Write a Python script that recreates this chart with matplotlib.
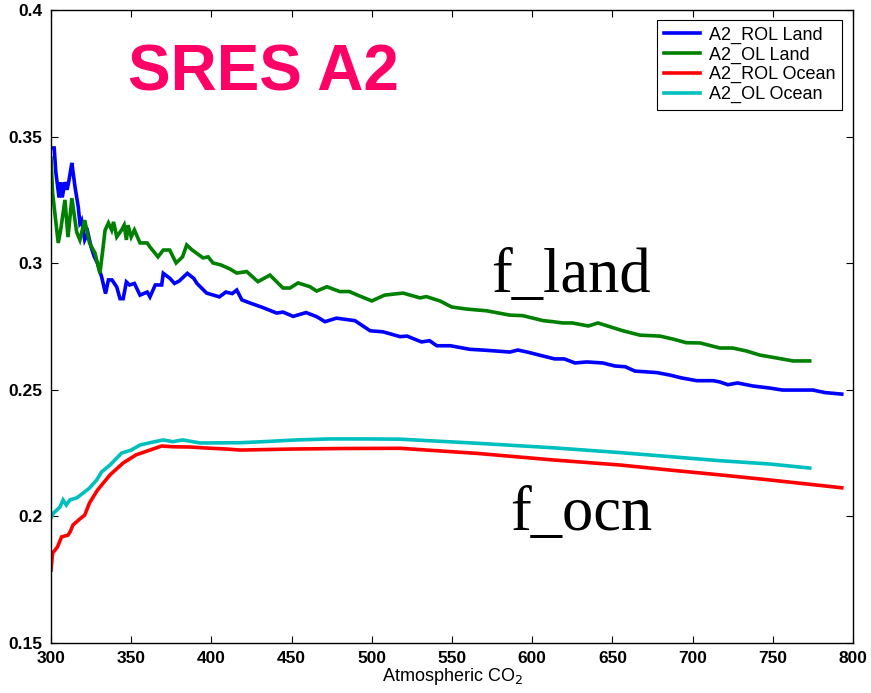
import matplotlib
matplotlib.use('Agg')
import matplotlib.pyplot as plt
from matplotlib.ticker import FuncFormatter

# 数据: 近似值
rol_land_x = [300, 302, 303, 305, 306, 307, 308.7, 310, 311, 312, 313, 315, 317, 318, 319,
              321, 323, 325, 327, 329, 331.6, 334, 335.8, 338, 341, 343, 345, 347, 349, 352,
              355.5, 360, 361.7, 365, 369, 370, 374, 377, 380, 385, 389, 391, 397, 405, 409,
              413, 415.8, 419, 424, 432, 440.7, 444.6, 451, 459, 465.6, 470.8, 478, 489.5,
              499, 507, 517.6, 522, 531, 536, 540.5, 549, 561, 569, 580, 586, 591, 597,
              607, 614, 620, 626.7, 634, 644, 651.6, 658, 664, 677.6, 686, 693, 702.6,
              712.8, 717, 722, 728, 737.6, 748, 756, 775, 782.5, 793]
rol_land_y = [0.3455, 0.3455, 0.336, 0.326, 0.332, 0.326, 0.332, 0.329, 0.332, 0.3357,
              0.3396, 0.330, 0.3222, 0.3159, 0.317, 0.3092, 0.312, 0.3064, 0.3025, 0.300,
              0.2945, 0.288, 0.2934, 0.2934, 0.2906, 0.286, 0.286, 0.2926, 0.2914, 0.292,
              0.2874, 0.2886, 0.2867, 0.2914, 0.2914, 0.296, 0.2941, 0.292, 0.293, 0.296,
              0.294, 0.292, 0.2882, 0.2867, 0.2886, 0.288, 0.2894, 0.2855, 0.2843, 0.2825,
              0.2803, 0.2807, 0.279, 0.2805, 0.2789, 0.2769, 0.2783, 0.2773, 0.2733, 0.2729,
              0.271, 0.2712, 0.2689, 0.2694, 0.2674, 0.2674, 0.266, 0.2657, 0.2652, 0.2649,
              0.2657, 0.2649, 0.2633, 0.2622, 0.2622, 0.2606, 0.261, 0.2606, 0.2594, 0.2591,
              0.2574, 0.2568, 0.2558, 0.2547, 0.2536, 0.2536, 0.2531, 0.252, 0.2527, 0.2515,
              0.2507, 0.2499, 0.2499, 0.2489, 0.2483]

ol_land_x = [300, 301, 304.5, 306, 308.7, 310.6, 313, 316, 318, 321, 324, 327.4, 330.5,
             332.5, 333.7, 335.8, 337.8, 339, 341, 344, 345.6, 347, 348, 350, 352, 355.5,
             360, 361.7, 366.7, 370, 374, 378, 382, 384.6, 388, 394.8, 398, 401, 406,
             411.6, 415.8, 422, 429, 436.5, 444.6, 449, 454, 461.5, 465.6, 472, 480, 486,
             492.6, 500, 508, 519.5, 530, 534, 542.5, 549.8, 559, 571.6, 586, 594, 607,
             613, 619, 625, 635, 641, 647, 656.6, 667, 679.7, 688, 696, 704.6, 717, 725,
             733.7, 742, 752, 762.6, 773]
ol_land_y = [0.3415, 0.3277, 0.308, 0.313, 0.325, 0.3103, 0.3257, 0.3123, 0.3092, 0.317,
             0.308, 0.304, 0.296, 0.3064, 0.313, 0.3159, 0.3131, 0.3163, 0.3104, 0.3131,
             0.315, 0.3092, 0.315, 0.3104, 0.3131, 0.308, 0.308, 0.3064, 0.3025, 0.3052,
             0.3052, 0.3001, 0.3025, 0.3072, 0.3052, 0.3021, 0.3025, 0.3001, 0.2993, 0.2977,
             0.2961, 0.2967, 0.2927, 0.2953, 0.2902, 0.2902, 0.2922, 0.2907, 0.289, 0.2907,
             0.2888, 0.2888, 0.287, 0.2851, 0.2874, 0.2882, 0.2863, 0.2868, 0.2851, 0.2827,
             0.2819, 0.2812, 0.2795, 0.2793, 0.2773, 0.2769, 0.2764, 0.2764, 0.2752, 0.2764,
             0.2752, 0.2733, 0.2716, 0.2712, 0.27, 0.2686, 0.2685, 0.2665, 0.2665, 0.2653,
             0.2637, 0.2626, 0.2614, 0.2614]

rol_ocean_x = [300, 301, 304, 306.6, 310.6, 312, 313.7, 318, 321, 324, 329, 336.8, 345,
               353, 361.7, 369, 376, 386.7, 397, 409.5, 418, 450, 480, 517.6, 565.4, 613,
               654.7, 686, 717, 748, 793]
rol_ocean_y = [0.1788, 0.1855, 0.1879, 0.1919, 0.1926, 0.194, 0.1966, 0.199, 0.2005, 0.2053,
               0.2104, 0.2164, 0.2211, 0.2243, 0.2262, 0.2278, 0.2275, 0.2274, 0.227, 0.2266,
               0.2262, 0.2266, 0.2268, 0.2269, 0.2249, 0.2223, 0.2203, 0.2183, 0.2164,
               0.2144, 0.2113]

ol_ocean_x = [300, 301.5, 305.6, 307.5, 309.5, 311.8, 316, 320, 324, 328.5, 331.6, 336.8,
              344, 350, 355.5, 361.7, 370, 376, 382, 393, 418, 432, 453, 474, 494.6, 517.6,
              565.4, 613, 654.7, 686, 717, 748, 773]
ol_ocean_y = [0.1994, 0.2013, 0.2037, 0.2065, 0.2045, 0.2065, 0.2073, 0.2092, 0.2112,
              0.2144, 0.2176, 0.2203, 0.225, 0.2262, 0.2282, 0.2291, 0.2302, 0.2295, 0.2302,
              0.229, 0.2291, 0.2295, 0.2302, 0.2306, 0.2306, 0.2305, 0.2289, 0.2271, 0.2252,
              0.2236, 0.222, 0.2207, 0.2191]

series_labels = ['A2_ROL Land', 'A2_OL Land', 'A2_ROL Ocean', 'A2_OL Ocean']
series_colors = ['#0000ff', '#008000', '#ff0000', '#00bfbf']

x_ticks = [300, 350, 400, 450, 500, 550, 600, 650, 700, 750, 800]
y_ticks = [0.15, 0.2, 0.25, 0.3, 0.35, 0.4]

plt.rcParams['font.family'] = ['Liberation Sans', 'DejaVu Sans']

fig = plt.figure(figsize=(8.71, 6.93), dpi=100)
ax = fig.add_axes([51 / 871, 50 / 693, 802 / 871, 633 / 693])

all_x = [rol_land_x, ol_land_x, rol_ocean_x, ol_ocean_x]
all_y = [rol_land_y, ol_land_y, rol_ocean_y, ol_ocean_y]
for xs, ys, lab, col in zip(all_x, all_y, series_labels, series_colors):
    ax.plot(xs, ys, color=col, lw=2.6, label=lab, solid_joinstyle='miter')

ax.set_xlim(300, 800)
ax.set_ylim(0.15, 0.4)
ax.set_xticks(x_ticks)
ax.set_yticks(y_ticks)
ax.yaxis.set_major_formatter(FuncFormatter(lambda v, p: '%g' % v))
ax.tick_params(direction='in', top=True, right=True, length=5, width=0.8,
               labelsize=12.5, pad=6)
for t in ax.get_xticklabels() + ax.get_yticklabels():
    t.set_fontweight('bold')
for s in ax.spines.values():
    s.set_linewidth(1.0)

ax.set_xlabel('Atmospheric CO$_2$', fontsize=13, labelpad=0)

ax.text(348, 0.3684, 'SRES A2', color='#ff0066', fontsize=46, fontweight='bold',
        ha='left', va='baseline')
ax.text(574.5, 0.2886, 'f_land', family='Liberation Serif', fontsize=45,
        ha='left', va='baseline')
ax.text(586, 0.1946, 'f_ocn', family='Liberation Serif', fontsize=45,
        ha='left', va='baseline')

leg = ax.legend(loc='upper right', bbox_to_anchor=(0.986, 0.984), borderaxespad=0,
                fontsize=13, fancybox=False, framealpha=1, edgecolor='black',
                labelspacing=0.15, handlelength=2.0, handletextpad=0.5,
                borderpad=0.35)
leg.get_frame().set_linewidth(0.8)

fig.savefig('out.png', dpi=100)
